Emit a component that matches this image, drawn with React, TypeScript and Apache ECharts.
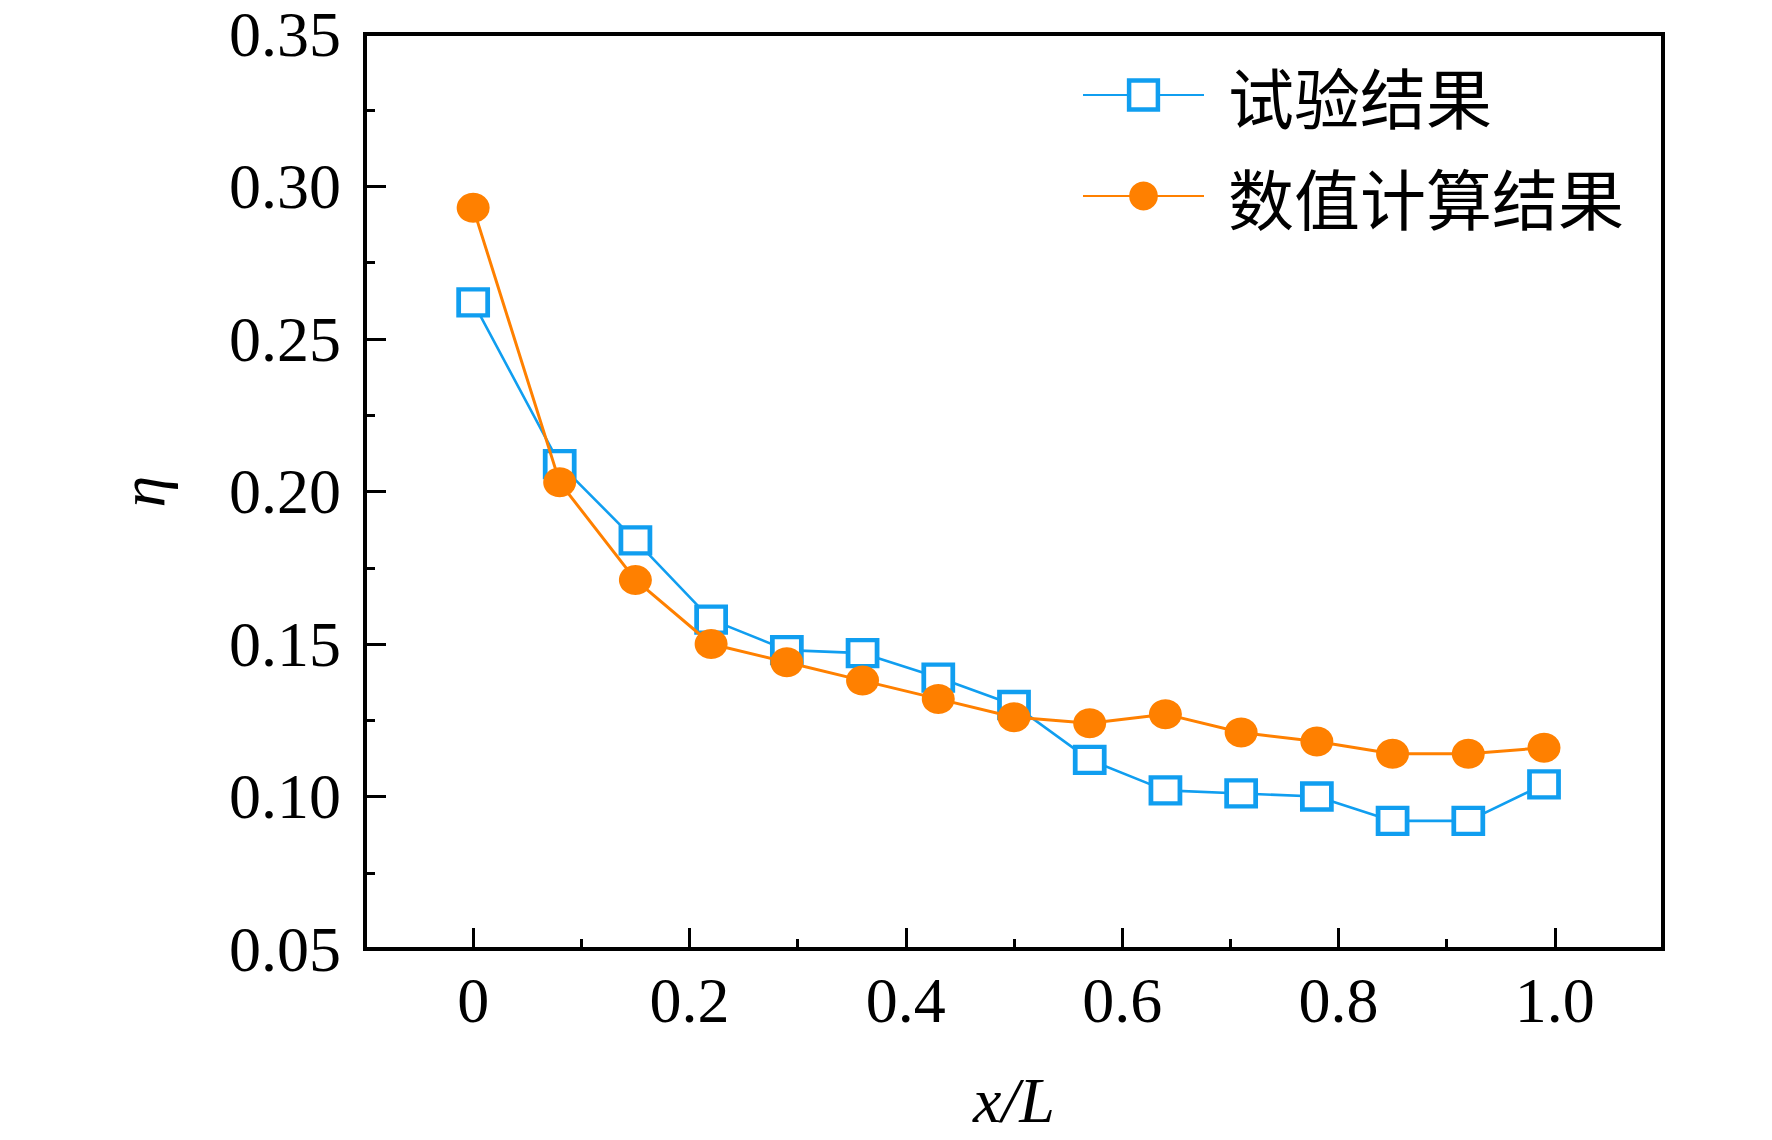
import React, { useEffect, useRef } from "react";
import * as echarts from "echarts";

// x/L positions of the measuring points
const xValues = [0, 0.08, 0.15, 0.22, 0.29, 0.36, 0.43, 0.5, 0.57, 0.64, 0.71, 0.78, 0.85, 0.92, 0.99];
// 试验结果
const testValues = [0.262, 0.209, 0.184, 0.158, 0.148, 0.147, 0.139, 0.13, 0.112, 0.102, 0.101, 0.1, 0.092, 0.092, 0.104];
// 数值计算结果
const numericValues = [0.293, 0.203, 0.171, 0.15, 0.144, 0.138, 0.132, 0.126, 0.124, 0.127, 0.121, 0.118, 0.114, 0.114, 0.116];

const xTickValues = [0, 0.2, 0.4, 0.6, 0.8, 1.0];
const xMinorTickValues = [0.1, 0.3, 0.5, 0.7, 0.9];

const BLUE = "#109ef0";
const ORANGE = "#ff8000";
const SERIF = "'Liberation Serif', 'Times New Roman', serif";
const CJK = "'Noto Sans CJK SC', sans-serif";

const App: React.FC = () => {
  const chartRef = useRef<HTMLDivElement | null>(null);

  useEffect(() => {
    document.body.style.margin = "0";
    if (!chartRef.current) return;
    const chart = echarts.init(chartRef.current, undefined, { renderer: "svg" });

    const tickStyle = { color: "#000", width: 3 };

    chart.setOption({
      animation: false,
      backgroundColor: "#fff",
      grid: {
        left: 365,
        right: 109,
        top: 34,
        bottom: 191,
        show: true,
        borderColor: "#000",
        borderWidth: 4,
      },
      legend: {
        orient: "vertical",
        left: 1082,
        top: 62,
        padding: 0,
        itemWidth: 121,
        itemHeight: 36,
        itemGap: 35,
        textStyle: {
          fontFamily: CJK,
          fontSize: 66,
          lineHeight: 66,
          color: "#000",
          padding: [0, 0, 0, 19],
        },
        data: [
          { name: "试验结果", itemStyle: { color: "#fff", borderColor: BLUE, borderWidth: 4.5 } },
          { name: "数值计算结果" },
        ],
      },
      xAxis: [
        {
          type: "value",
          min: -0.1,
          max: 1.1,
          position: "bottom",
          name: "x/L",
          nameLocation: "middle",
          nameGap: 119,
          nameTextStyle: { fontFamily: SERIF, fontStyle: "italic", fontSize: 64, color: "#000" },
          axisLine: { show: false, onZero: false },
          axisTick: { show: true, inside: true, length: 21, lineStyle: tickStyle, customValues: xTickValues },
          axisLabel: {
            fontFamily: SERIF,
            fontSize: 64,
            color: "#000",
            margin: 19,
            customValues: xTickValues,
            formatter: (v: number) => (v === 0 ? "0" : v.toFixed(1)),
          },
          splitLine: { show: false },
        },
        {
          type: "value",
          min: -0.1,
          max: 1.1,
          position: "bottom",
          axisLine: { show: false, onZero: false },
          axisTick: { show: true, inside: true, length: 10, lineStyle: tickStyle, customValues: xMinorTickValues },
          axisLabel: { show: false },
          splitLine: { show: false },
        },
      ],
      yAxis: {
        type: "value",
        min: 0.05,
        max: 0.35,
        interval: 0.05,
        position: "left",
        name: "η",
        nameLocation: "middle",
        nameGap: 191,
        nameTextStyle: { fontFamily: SERIF, fontStyle: "italic", fontSize: 64, color: "#000" },
        axisLine: { show: false, onZero: false },
        axisTick: { show: true, inside: true, length: 21, lineStyle: tickStyle },
        minorTick: { show: true, splitNumber: 2, length: 10, lineStyle: tickStyle },
        axisLabel: {
          fontFamily: SERIF,
          fontSize: 64,
          color: "#000",
          margin: 24,
          formatter: (v: number) => v.toFixed(2),
        },
        splitLine: { show: false },
        minorSplitLine: { show: false },
      },
      series: [
        {
          name: "试验结果",
          type: "line",
          xAxisIndex: 0,
          z: 2,
          data: xValues.map((x, i) => [x, testValues[i]]),
          symbol: "rect",
          symbolSize: [29, 26],
          lineStyle: { color: BLUE, width: 2.6 },
          itemStyle: { color: "#fff", borderColor: BLUE, borderWidth: 4.5 },
        },
        {
          name: "数值计算结果",
          type: "line",
          xAxisIndex: 0,
          z: 3,
          data: xValues.map((x, i) => [x, numericValues[i]]),
          symbol: "circle",
          symbolSize: [33, 30],
          lineStyle: { color: ORANGE, width: 3 },
          itemStyle: { color: ORANGE },
        },
      ],
    });

    return () => {
      chart.dispose();
    };
  }, []);

  return <div ref={chartRef} style={{ width: 1772, height: 1140 }} />;
};

export default App;
